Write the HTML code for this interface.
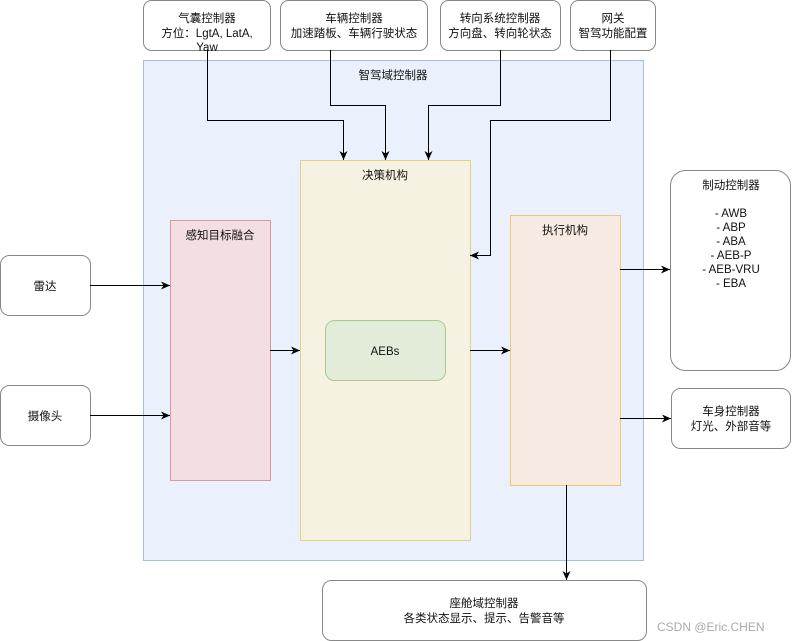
<!DOCTYPE html>
<html><head><meta charset="utf-8"><style>
html,body{margin:0;padding:0;background:#fff;width:792px;height:641px;overflow:hidden}
svg text{font-family:"Liberation Sans","Noto Sans CJK SC",sans-serif;font-size:11.5px;fill:#111}
</style></head><body>
<svg width="792" height="641" viewBox="0 0 792 641" xmlns="http://www.w3.org/2000/svg">
<defs><marker id="a" markerWidth="10" markerHeight="8" refX="9" refY="4" orient="auto" markerUnits="userSpaceOnUse"><path d="M0,0 L9,4 L0,8 L2.5,4 Z" fill="#000"/></marker></defs>
<!-- main container -->
<rect x="143.5" y="60.5" width="500" height="500" fill="#eaf1fc" stroke="#a9bedd"/>
<text x="393" y="79" text-anchor="middle">智驾域控制器</text>
<!-- inner boxes -->
<rect x="300.5" y="160.5" width="170" height="380" fill="#f6f2e2" stroke="#e6cf83"/>
<text x="385" y="179" text-anchor="middle">决策机构</text>
<rect x="170.5" y="220.5" width="100" height="260" fill="#f2dee3" stroke="#d99a9a"/>
<text x="220" y="239" text-anchor="middle">感知目标融合</text>
<rect x="510.5" y="215.5" width="110" height="270" fill="#f6eae2" stroke="#ecc670"/>
<text x="565" y="234" text-anchor="middle">执行机构</text>
<rect x="325.5" y="320.5" width="120" height="60" rx="9" fill="#e3ebd9" stroke="#a9c98e"/>
<text x="385" y="355" text-anchor="middle">AEBs</text>
<!-- top boxes -->
<g fill="#fff" stroke="#888">
<rect x="143.5" y="0.5" width="127" height="50" rx="8"/>
<rect x="280.5" y="0.5" width="147" height="50" rx="8"/>
<rect x="440.5" y="0.5" width="120" height="50" rx="8"/>
<rect x="570.5" y="0.5" width="85" height="50" rx="8"/>
<rect x="0.5" y="255.5" width="90" height="60" rx="9"/>
<rect x="0.5" y="385.5" width="90" height="60" rx="9"/>
<rect x="670.5" y="170.5" width="120" height="200" rx="15"/>
<rect x="671.5" y="388.5" width="119" height="60" rx="9"/>
<rect x="322.5" y="580.5" width="324" height="60" rx="9"/>
</g>
<text x="207" y="22" text-anchor="middle">气囊控制器</text>
<text x="207" y="37" text-anchor="middle">方位：LgtA, LatA,</text>
<text x="207" y="51" text-anchor="middle">Yaw</text>
<text x="354" y="22" text-anchor="middle">车辆控制器</text>
<text x="354" y="37" text-anchor="middle">加速踏板、车辆行驶状态</text>
<text x="500" y="22" text-anchor="middle">转向系统控制器</text>
<text x="500" y="37" text-anchor="middle">方向盘、转向轮状态</text>
<text x="613" y="22" text-anchor="middle">网关</text>
<text x="613" y="37" text-anchor="middle">智驾功能配置</text>
<text x="45" y="290" text-anchor="middle">雷达</text>
<text x="45" y="420" text-anchor="middle">摄像头</text>
<g text-anchor="middle">
<text x="731" y="189">制动控制器</text>
<text x="731" y="217">- AWB</text>
<text x="731" y="231">- ABP</text>
<text x="731" y="245">- ABA</text>
<text x="731" y="259">- AEB-P</text>
<text x="731" y="273">- AEB-VRU</text>
<text x="731" y="287">- EBA</text>
<text x="731" y="415">车身控制器</text>
<text x="731" y="430">灯光、外部音等</text>
<text x="484" y="607">座舱域控制器</text>
<text x="484" y="622">各类状态显示、提示、告警音等</text>
</g>
<!-- connectors -->
<g fill="none" stroke="#000" stroke-width="1" marker-end="url(#a)">
<path d="M207.5,50 V120.5 H343.5 V160"/>
<path d="M330.5,50 V105.5 H385.5 V160"/>
<path d="M500.5,50 V105.5 H428.5 V160"/>
<path d="M610.5,50 V120.5 H490.5 V255.5 H470"/>
<path d="M90,285.5 H170"/>
<path d="M90,415.5 H170"/>
<path d="M270,350.5 H300"/>
<path d="M470,350.5 H510"/>
<path d="M620,269.5 H670"/>
<path d="M620,418.5 H671"/>
<path d="M566.5,485 V580"/>
</g>
<text x="657" y="631" style="fill:#aaa;font-size:12px">CSDN @Eric.CHEN</text>
</svg>
</body></html>
